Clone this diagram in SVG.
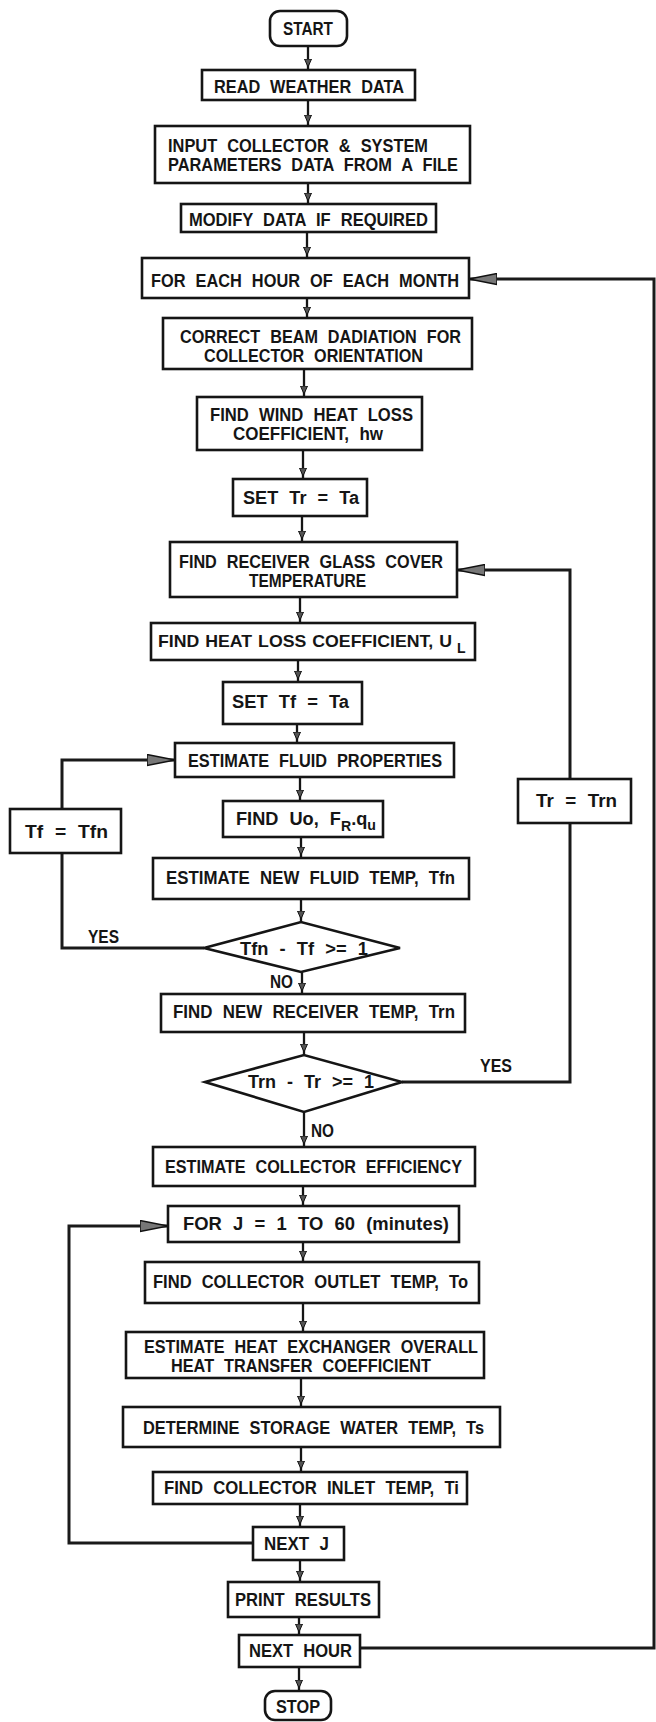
<svg xmlns="http://www.w3.org/2000/svg" width="656" height="1722" viewBox="0 0 656 1722">
<style>
.box{fill:#fff;stroke:#151515;stroke-width:2.6}
.t{font-family:"Liberation Sans",Arial,sans-serif;font-weight:bold;font-size:18px;fill:#151515;word-spacing:6px}
.s{font-size:14px}
.n{font-size:17px;word-spacing:1px}
.ln{fill:none;stroke:#151515;stroke-width:2.3}
.lp{fill:none;stroke:#1a1a1a;stroke-width:3}
</style>
<defs>
<marker id="ah" viewBox="0 0 12 8" refX="11" refY="4" markerWidth="12" markerHeight="8" markerUnits="userSpaceOnUse" orient="auto"><path d="M0,0.5 L8,4 L0,7.5 z" fill="#555" stroke="#111" stroke-width="1"/></marker>
<marker id="big" viewBox="0 0 28 13" refX="28" refY="6.5" markerWidth="28" markerHeight="13" markerUnits="userSpaceOnUse" orient="auto"><path d="M0,1 L28,6.5 L0,12 z" fill="#777" stroke="#111" stroke-width="1.5"/></marker>
</defs>
<rect x="0" y="0" width="656" height="1722" fill="#fff"/>

<g id="connectors">
<path class="ln" marker-end="url(#ah)" d="M308,46 V70"/>
<path class="ln" marker-end="url(#ah)" d="M308,100 V126"/>
<path class="ln" marker-end="url(#ah)" d="M308,183 V204"/>
<path class="ln" marker-end="url(#ah)" d="M307,232 V258"/>
<path class="ln" marker-end="url(#ah)" d="M307,298 V318"/>
<path class="ln" marker-end="url(#ah)" d="M304,369 V397"/>
<path class="ln" marker-end="url(#ah)" d="M303,450 V479"/>
<path class="ln" marker-end="url(#ah)" d="M302,516 V542"/>
<path class="ln" marker-end="url(#ah)" d="M300,597 V623"/>
<path class="ln" marker-end="url(#ah)" d="M298,660 V682"/>
<path class="ln" marker-end="url(#ah)" d="M297,724 V743"/>
<path class="ln" marker-end="url(#ah)" d="M300,777 V801"/>
<path class="ln" marker-end="url(#ah)" d="M301,837 V858"/>
<path class="ln" marker-end="url(#ah)" d="M301,899 V922"/>
<path class="ln" marker-end="url(#ah)" d="M302,972 V994"/>
<path class="ln" marker-end="url(#ah)" d="M304,1032 V1055"/>
<path class="ln" marker-end="url(#ah)" d="M304,1112 V1147"/>
<path class="ln" marker-end="url(#ah)" d="M303,1186 V1206"/>
<path class="ln" marker-end="url(#ah)" d="M303,1242 V1262"/>
<path class="ln" marker-end="url(#ah)" d="M303,1303 V1332"/>
<path class="ln" marker-end="url(#ah)" d="M301,1378 V1407"/>
<path class="ln" marker-end="url(#ah)" d="M301,1447 V1472"/>
<path class="ln" marker-end="url(#ah)" d="M300,1504 V1527"/>
<path class="ln" marker-end="url(#ah)" d="M300,1560 V1582"/>
<path class="ln" marker-end="url(#ah)" d="M299,1617 V1635"/>
<path class="ln" marker-end="url(#ah)" d="M299,1667 V1691"/>
<path class="lp" d="M204,948 H62 V853"/>
<path class="lp" marker-end="url(#big)" d="M62,809 V760 H175"/>
<path class="lp" d="M402,1082 H570 V823"/>
<path class="lp" marker-end="url(#big)" d="M570,779 V570 H457"/>
<path class="lp" marker-end="url(#big)" d="M253,1543 H69 V1226 H168"/>
<path class="lp" marker-end="url(#big)" d="M360,1648 H654 V279 H469"/>
<text class="t" x="88" y="943" textLength="31" lengthAdjust="spacingAndGlyphs">YES</text>
<text class="t" x="270" y="988" textLength="23" lengthAdjust="spacingAndGlyphs">NO</text>
<text class="t" x="480" y="1072" textLength="32" lengthAdjust="spacingAndGlyphs">YES</text>
<text class="t" x="311" y="1137" textLength="23" lengthAdjust="spacingAndGlyphs">NO</text>
</g>

<g id="n-start"><rect class="box" x="270" y="11" width="77" height="35" rx="10"/><text class="t" x="283" y="35" textLength="50" lengthAdjust="spacingAndGlyphs">START</text></g>
<g id="n-read"><rect class="box" x="202" y="70" width="213" height="30"/><text class="t" x="214" y="93" textLength="190" lengthAdjust="spacingAndGlyphs">READ WEATHER DATA</text></g>
<g id="n-input"><rect class="box" x="155" y="126" width="315" height="57"/><text class="t" x="168" y="152" textLength="260" lengthAdjust="spacingAndGlyphs">INPUT COLLECTOR &amp; SYSTEM</text><text class="t" x="168" y="171" textLength="290" lengthAdjust="spacingAndGlyphs">PARAMETERS DATA FROM A FILE</text></g>
<g id="n-modify"><rect class="box" x="181" y="204" width="255" height="28"/><text class="t" x="189" y="226" textLength="239" lengthAdjust="spacingAndGlyphs">MODIFY DATA IF REQUIRED</text></g>
<g id="n-hour"><rect class="box" x="142" y="258" width="327" height="40"/><text class="t" x="151" y="287" textLength="308" lengthAdjust="spacingAndGlyphs">FOR EACH HOUR OF EACH MONTH</text></g>
<g id="n-beam"><rect class="box" x="163" y="318" width="309" height="51"/><text class="t" x="180" y="343" textLength="281" lengthAdjust="spacingAndGlyphs">CORRECT BEAM DADIATION FOR</text><text class="t" x="204" y="362" textLength="219" lengthAdjust="spacingAndGlyphs">COLLECTOR ORIENTATION</text></g>
<g id="n-wind"><rect class="box" x="197" y="397" width="225" height="53"/><text class="t" x="210" y="421" textLength="203" lengthAdjust="spacingAndGlyphs">FIND WIND HEAT LOSS</text><text class="t" x="233" y="440" textLength="150" lengthAdjust="spacingAndGlyphs">COEFFICIENT, hw</text></g>
<g id="n-settr"><rect class="box" x="233" y="479" width="134" height="37"/><text class="t" x="243" y="504" textLength="116" lengthAdjust="spacingAndGlyphs">SET Tr = Ta</text></g>
<g id="n-glass"><rect class="box" x="170" y="542" width="287" height="55"/><text class="t" x="179" y="568" textLength="264" lengthAdjust="spacingAndGlyphs">FIND RECEIVER GLASS COVER</text><text class="t" x="249" y="587" textLength="117" lengthAdjust="spacingAndGlyphs">TEMPERATURE</text></g>
<g id="n-ul"><rect class="box" x="151" y="623" width="324" height="37"/><text class="t n" x="158" y="647" textLength="294" lengthAdjust="spacingAndGlyphs">FIND HEAT LOSS COEFFICIENT, U</text><text class="t s" x="457" y="653">L</text></g>
<g id="n-settf"><rect class="box" x="223" y="682" width="139" height="42"/><text class="t" x="232" y="708" textLength="117" lengthAdjust="spacingAndGlyphs">SET Tf = Ta</text></g>
<g id="n-fluid"><rect class="box" x="175" y="743" width="279" height="34"/><text class="t" x="188" y="767" textLength="254" lengthAdjust="spacingAndGlyphs">ESTIMATE FLUID PROPERTIES</text></g>
<g id="n-uo"><rect class="box" x="223" y="801" width="160" height="36"/><text class="t" x="236" y="825" textLength="140" lengthAdjust="spacingAndGlyphs">FIND Uo, F<tspan class="s" dy="6">R</tspan><tspan dy="-6">.q</tspan><tspan class="s" dy="5">u</tspan></text></g>
<g id="n-tfn"><rect class="box" x="153" y="858" width="316" height="41"/><text class="t" x="166" y="884" textLength="289" lengthAdjust="spacingAndGlyphs">ESTIMATE NEW FLUID TEMP, Tfn</text></g>
<g id="n-d1"><polygon class="box" points="204,948 301,922 400,948 301,972"/><text class="t" x="240" y="955" textLength="128" lengthAdjust="spacingAndGlyphs">Tfn - Tf &gt;= 1</text></g>
<g id="n-tfeq"><rect class="box" x="10" y="809" width="111" height="44"/><text class="t" x="25" y="838" textLength="83" lengthAdjust="spacingAndGlyphs">Tf = Tfn</text></g>
<g id="n-trn"><rect class="box" x="161" y="994" width="304" height="38"/><text class="t" x="173" y="1018" textLength="282" lengthAdjust="spacingAndGlyphs">FIND NEW RECEIVER TEMP, Trn</text></g>
<g id="n-d2"><polygon class="box" points="205,1082 304,1055 402,1082 304,1112"/><text class="t" x="248" y="1088" textLength="126" lengthAdjust="spacingAndGlyphs">Trn - Tr &gt;= 1</text></g>
<g id="n-treq"><rect class="box" x="518" y="779" width="113" height="44"/><text class="t" x="536" y="807" textLength="81" lengthAdjust="spacingAndGlyphs">Tr = Trn</text></g>
<g id="n-eff"><rect class="box" x="153" y="1147" width="322" height="39"/><text class="t" x="165" y="1173" textLength="297" lengthAdjust="spacingAndGlyphs">ESTIMATE COLLECTOR EFFICIENCY</text></g>
<g id="n-forj"><rect class="box" x="168" y="1206" width="291" height="36"/><text class="t" x="183" y="1230" textLength="266" lengthAdjust="spacingAndGlyphs">FOR J = 1 TO 60 (minutes)</text></g>
<g id="n-outlet"><rect class="box" x="145" y="1262" width="334" height="41"/><text class="t" x="153" y="1288" textLength="315" lengthAdjust="spacingAndGlyphs">FIND COLLECTOR OUTLET TEMP, To</text></g>
<g id="n-hex"><rect class="box" x="126" y="1332" width="358" height="46"/><text class="t" x="144" y="1353" textLength="334" lengthAdjust="spacingAndGlyphs">ESTIMATE HEAT EXCHANGER OVERALL</text><text class="t" x="171" y="1372" textLength="260" lengthAdjust="spacingAndGlyphs">HEAT TRANSFER COEFFICIENT</text></g>
<g id="n-storage"><rect class="box" x="123" y="1407" width="377" height="40"/><text class="t" x="143" y="1434" textLength="341" lengthAdjust="spacingAndGlyphs">DETERMINE STORAGE WATER TEMP, Ts</text></g>
<g id="n-inlet"><rect class="box" x="153" y="1472" width="314" height="32"/><text class="t" x="164" y="1494" textLength="295" lengthAdjust="spacingAndGlyphs">FIND COLLECTOR INLET TEMP, Ti</text></g>
<g id="n-nextj"><rect class="box" x="253" y="1527" width="91" height="33"/><text class="t" x="264" y="1550" textLength="65" lengthAdjust="spacingAndGlyphs">NEXT J</text></g>
<g id="n-print"><rect class="box" x="228" y="1582" width="151" height="35"/><text class="t" x="235" y="1606" textLength="136" lengthAdjust="spacingAndGlyphs">PRINT RESULTS</text></g>
<g id="n-nexthour"><rect class="box" x="239" y="1635" width="121" height="32"/><text class="t" x="249" y="1657" textLength="103" lengthAdjust="spacingAndGlyphs">NEXT HOUR</text></g>
<g id="n-stop"><rect class="box" x="265" y="1691" width="66" height="29" rx="10"/><text class="t" x="276" y="1713" textLength="44" lengthAdjust="spacingAndGlyphs">STOP</text></g>
</svg>
